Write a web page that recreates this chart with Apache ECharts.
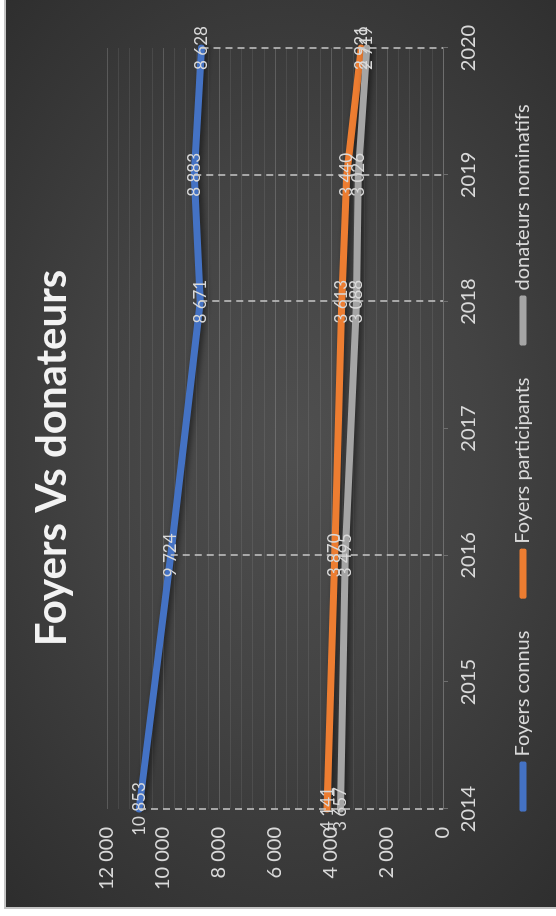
<!DOCTYPE html>
<html><head><meta charset="utf-8">
<script src="https://cdn.jsdelivr.net/npm/echarts@6/dist/echarts.min.js"></script>
<style>
html,body{margin:0;padding:0;background:#fff;width:556px;height:916px;overflow:hidden}
#wrap{position:absolute;left:0;top:0;width:916px;height:556px;transform-origin:0 0;transform:translate(0,916px) rotate(-90deg);background:#fff;overflow:hidden}
#bg{position:absolute;left:7px;top:4px;width:930px;height:570px;border:2px solid #c4c4c4;
 background:radial-gradient(ellipse 65% 75% at 50% 50%, #4f4f4f 0%, #434343 45%, #2e2e2e 100%);}
#chart{position:absolute;left:0;top:0;width:916px;height:556px}
</style></head>
<body>
<div id="wrap"><div id="bg"></div><div id="chart"></div></div>
<script>
// ---- data ----
const years = [2014, 2016, 2018, 2019, 2020];
const foyersConnus = [10853, 9724, 8671, 8883, 8628];
const foyersParticipants = [4141, 3870, 3613, 3440, 2921];
const donateursNominatifs = [3657, 3495, 3088, 3026, 2719];
const seriesNames = ['Foyers connus', 'Foyers participants', 'donateurs nominatifs'];
const yearTicks = [2014, 2015, 2016, 2017, 2018, 2019, 2020];
const valueTicks = [0, 2000, 4000, 6000, 8000, 10000, 12000];
const titleText = 'Foyers Vs donateurs';

// ---- styling ----
const colors = ['#4472C4', '#ED7D31', '#A5A5A5'];
const FONT = "Lato, 'Open Sans', sans-serif";
const txt = '#d9d9d9';
const fmt = v => String(v).replace(/\B(?=(\d{3})+(?!\d))/g, ' ');

const allSeries = [foyersConnus, foyersParticipants, donateursNominatifs];

const chart = echarts.init(document.getElementById('chart'), null, {renderer: 'canvas'});

const lineSeries = allSeries.map((vals, k) => ({
  name: seriesNames[k],
  type: 'line',
  z: 3,
  data: years.map((y, i) => [y, vals[i]]),
  symbol: 'circle',
  symbolSize: 1,
  itemStyle: {color: colors[k]},
  lineStyle: {width: 7, color: colors[k], cap: 'round', join: 'round',
    shadowColor: 'rgba(0,0,0,0.55)', shadowBlur: 6, shadowOffsetX: 2, shadowOffsetY: 3},
  label: {show: true, position: 'inside', color: txt, fontSize: 17, fontFamily: FONT,
    formatter: p => fmt(p.value[1])},
  emphasis: {disabled: true},
  animation: false
}));

const dropSeries = {
  name: 'drop', type: 'line', data: [], z: 1, animation: false,
  markLine: {
    silent: true, symbol: ['none', 'none'], animation: false,
    label: {show: false},
    lineStyle: {color: '#c8c8c8', type: [7, 5], width: 1.5},
    data: years.map((y, i) => [{coord: [y, Math.max(foyersConnus[i], foyersParticipants[i], donateursNominatifs[i])]}, {coord: [y, 0]}])
  }
};

chart.setOption({
  backgroundColor: 'transparent',
  animation: false,
  title: {
    text: titleText, left: 'center', top: 26,
    textStyle: {color: '#f2f2f2', fontSize: 42, fontWeight: 'bold', fontFamily: FONT}
  },
  legend: {
    data: seriesNames, left: 'center', top: 508, itemGap: 32,
    icon: 'roundRect', itemWidth: 50, itemHeight: 7,
    textStyle: {color: txt, fontSize: 20, fontFamily: FONT}
  },
  grid: {left: 107, right: 48, top: 107, bottom: 113, containLabel: false, outerBoundsMode: 'none'},
  xAxis: {
    type: 'value', min: yearTicks[0], max: yearTicks[yearTicks.length - 1], interval: 1,
    axisLine: {show: true, lineStyle: {color: '#6e6e6e', width: 1}},
    axisTick: {show: true, length: 5, lineStyle: {color: '#6e6e6e'}},
    axisLabel: {color: txt, fontSize: 20, fontFamily: FONT, margin: 16,
      formatter: v => yearTicks.includes(v) ? String(v) : ''},
    splitLine: {show: false}
  },
  yAxis: {
    type: 'value', min: valueTicks[0], max: valueTicks[valueTicks.length - 1], interval: 2000,
    axisLine: {show: false}, axisTick: {show: false},
    axisLabel: {color: txt, fontSize: 20, fontFamily: FONT, margin: 18, formatter: v => fmt(v)},
    splitLine: {show: true, lineStyle: {color: 'rgba(255,255,255,0.17)', width: 1}},
    minorTick: {show: false, splitNumber: 5},
    minorSplitLine: {show: true, lineStyle: {color: 'rgba(255,255,255,0.08)', width: 1}}
  },
  series: [dropSeries].concat(lineSeries)
});
</script>
</body></html>
